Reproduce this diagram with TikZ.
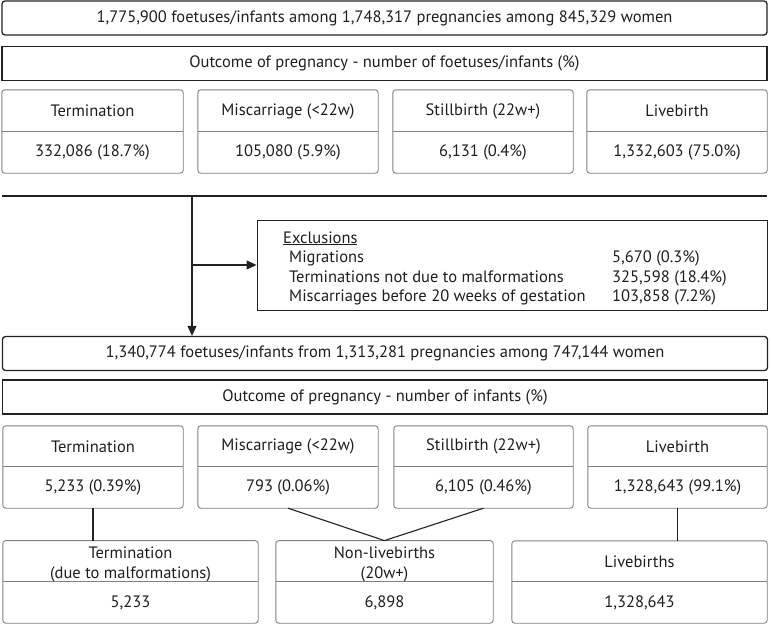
\documentclass[tikz,border=0pt]{standalone}
\usepackage{fontspec}
\setmainfont{PT Sans}
\usepackage{tikz}
\usetikzlibrary{arrows.meta, positioning, calc}
\definecolor{BoxDark}{RGB}{34,34,34}
\definecolor{BoxGrey}{RGB}{128,128,128}
\definecolor{TextDark}{RGB}{30,30,30}

\begin{document}
\begin{tikzpicture}[x=1pt,y=-1pt,
        font=\fontsize{16.5}{19.8}\selectfont,text=TextDark,
        bigbox/.style={draw=BoxDark,rounded corners=3pt,line width=1.3pt,
                       minimum width=765pt,minimum height=34pt,inner sep=0pt},
        headbox/.style={draw=BoxDark,line width=1.8pt,
                        minimum width=765pt,minimum height=34pt,inner sep=0pt},
        cell/.style={minimum height=41pt,inner sep=0pt,align=center},
        outline/.style={draw=BoxGrey,rounded corners=3pt,line width=0.9pt},
        divider/.style={draw=BoxGrey,line width=0.9pt},
        arr/.style={-{Triangle[length=10pt,width=9pt]},BoxDark,line width=1.1pt},
        link/.style={BoxDark,line width=1.1pt}
      ]
        \useasboundingbox (0,0) rectangle (771,627);

        % whole cohort
        \node[bigbox]  (pop)  at (384.5,18) {1,775,900 foetuses/infants among 1,748,317 pregnancies among 845,329 women};
        \node[headbox] (outA) at (384.5,63.5) {Outcome of pregnancy - number of foetuses/infants (\%)};

        \node[cell,minimum width=181pt,minimum height=42pt] (termA)  at (92.5,111)   {Termination};
        \node[cell,minimum width=181pt] (termAv) at (92.5,152.5) {332,086 (18.7\%)};
        \node[cell,minimum width=180pt,minimum height=42pt] (miscA)  at (288,111)    {Miscarriage (<22w)};
        \node[cell,minimum width=180pt] (miscAv) at (288,152.5)  {105,080 (5.9\%)};
        \node[cell,minimum width=180pt,minimum height=42pt] (stillA) at (483,111)    {Stillbirth (22w+)};
        \node[cell,minimum width=180pt] (stillAv) at (483,152.5) {6,131 (0.4\%)};
        \node[cell,minimum width=180pt,minimum height=42pt] (liveA)  at (677,111)    {Livebirth};
        \node[cell,minimum width=180pt] (liveAv) at (677,152.5)  {1,332,603 (75.0\%)};
        \foreach \n in {termA,miscA,stillA,liveA}{
          \draw[outline] (\n.north west) rectangle (\n v.south east);
          \draw[divider] (\n v.north west) -- (\n v.north east);
        }

        % exclusions
        \coordinate (sepL) at (2,196);
        \coordinate (sepR) at (767,196);
        \coordinate (split) at (192,196);
        \draw[link] (sepL) -- (sepR);
        \node[draw=BoxDark,line width=0.9pt,minimum width=510pt,minimum height=90pt,inner sep=0pt] (excl) at (512,265) {};
        \node[anchor=base west,inner sep=0pt,font=\fontsize{16.5}{19.5}\selectfont] (exclText) at (283,243)
          {\begin{tabular}[t]{@{\hspace{6pt}}p{323pt}@{}l@{}}
             \multicolumn{2}{@{}l}{\underline{Exclusions}}\\
             Migrations & 5,670 (0.3\%)\\
             Terminations not due to malformations & 325,598 (18.4\%)\\
             Miscarriages before 20 weeks of gestation & 103,858 (7.2\%)
           \end{tabular}};

        % study cohort
        \node[bigbox]  (cohort) at (385,353.5) {1,340,774 foetuses/infants from 1,313,281 pregnancies among 747,144 women};
        \node[headbox] (outB)   at (385,397)   {Outcome of pregnancy - number of infants (\%)};
        \draw[link] (split) -- (split |- excl.west);
        \draw[arr] (split |- excl.west) -- (excl.west);
        \draw[arr] (split) -- (split |- cohort.north);

        \node[cell,minimum width=180pt] (termB)  at (93,446.5)    {Termination};
        \node[cell,minimum width=180pt] (termBv) at (93,487.5)    {5,233 (0.39\%)};
        \node[cell,minimum width=180pt] (miscB)  at (288,446.5)   {Miscarriage (<22w)};
        \node[cell,minimum width=180pt] (miscBv) at (288,487.5)   {793 (0.06\%)};
        \node[cell,minimum width=179pt] (stillB) at (483.5,446.5) {Stillbirth (22w+)};
        \node[cell,minimum width=179pt] (stillBv) at (483.5,487.5) {6,105 (0.46\%)};
        \node[cell,minimum width=179pt] (liveB)  at (677.5,446.5) {Livebirth};
        \node[cell,minimum width=179pt] (liveBv) at (677.5,487.5) {1,328,643 (99.1\%)};
        \foreach \n in {termB,miscB,stillB,liveB}{
          \draw[outline] (\n.north west) rectangle (\n v.south east);
          \draw[divider] (\n v.north west) -- (\n v.north east);
        }

        % groups used in the analysis
        \node[cell,minimum width=255pt] (dueMal)  at (130.5,561.5) {\rule{0pt}{18pt}Termination\\(due to malformations)};
        \node[cell,minimum width=255pt] (dueMalv) at (130.5,602.5) {5,233};
        \node[cell,minimum width=217pt] (nonLive)  at (384.5,561.5) {\rule{0pt}{18pt}Non-livebirths\\(20w+)};
        \node[cell,minimum width=217pt] (nonLivev) at (384.5,602.5) {6,898};
        \node[cell,minimum width=255pt] (births)  at (639.5,561.5) {Livebirths};
        \node[cell,minimum width=255pt] (birthsv) at (639.5,602.5) {1,328,643};
        \foreach \n in {dueMal,nonLive,births}{
          \draw[outline] (\n.north west) rectangle (\n v.south east);
          \draw[divider] (\n v.north west) -- (\n v.north east);
        }

        \draw[link] (termBv.south) -- (termBv.south |- dueMal.north);
        \draw[link] (miscBv.south) -- (nonLive.north);
        \draw[link] (stillBv.south) -- (nonLive.north);
        \draw[link] (liveBv.south) -- (liveBv.south |- births.north);
      \end{tikzpicture}
\end{document}
